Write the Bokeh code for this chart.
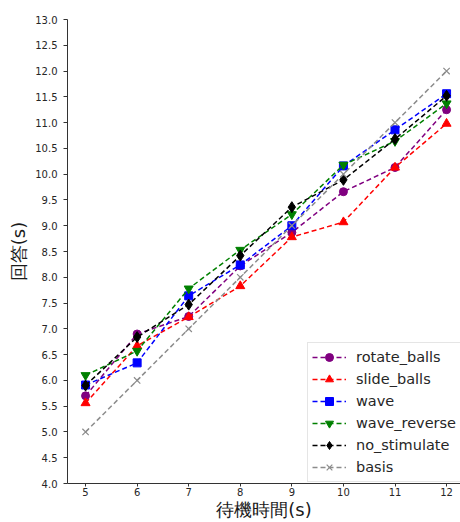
from bokeh.plotting import figure
from bokeh.models import Range1d, FixedTicker, NumeralTickFormatter, Legend, LegendItem
from bokeh.embed import file_html
from bokeh.resources import INLINE

x = [5, 6, 7, 8, 9, 10, 11, 12]
rotate_balls = [5.70, 6.90, 7.24, 8.22, 8.87, 9.66, 10.13, 11.25]
slide_balls = [5.56, 6.67, 7.23, 7.83, 8.78, 9.07, 10.13, 10.98]
wave = [5.91, 6.34, 7.64, 8.24, 9.00, 10.16, 10.86, 11.56]
wave_reverse = [6.10, 6.57, 7.78, 8.53, 9.22, 10.18, 10.64, 11.37]
no_stimulate = [5.90, 6.84, 7.47, 8.42, 9.36, 9.89, 10.68, 11.52]
basis = [5, 6, 7, 8, 9, 10, 11, 12]

x_ticks = [5, 6, 7, 8, 9, 10, 11, 12]
y_ticks = [4.0, 4.5, 5.0, 5.5, 6.0, 6.5, 7.0, 7.5, 8.0, 8.5, 9.0, 9.5, 10.0,
           10.5, 11.0, 11.5, 12.0, 12.5, 13.0]

series = [
    ("rotate_balls", rotate_balls, "#800080", "circle", 8),
    ("slide_balls", slide_balls, "#ff0000", "triangle", 9),
    ("wave", wave, "#0000ff", "square", 8),
    ("wave_reverse", wave_reverse, "#008000", "inverted_triangle", 9),
    ("no_stimulate", no_stimulate, "#000000", "diamond", 11),
    ("basis", basis, "#8c8c8c", "x", 9),
]

p = figure(width=460, height=522, output_backend="svg", toolbar_location=None,
           x_range=Range1d(4.65, 12.27), y_range=Range1d(4.0, 13.0),
           min_border_left=67, min_border_top=19, min_border_right=0,
           min_border_bottom=37)
p.outline_line_color = None
p.grid.visible = False
p.background_fill_color = "white"

for ax in (p.xaxis[0], p.yaxis[0]):
    ax.axis_line_color = "#333333"
    ax.axis_line_width = 1
    ax.major_tick_line_color = "#333333"
    ax.major_tick_out = 4
    ax.major_tick_in = 0
    ax.minor_tick_line_color = None
    ax.major_label_text_font = "DejaVu Sans"
    ax.major_label_text_font_size = "10px"
    ax.major_label_text_color = "#262626"
    ax.axis_label_text_font = "DejaVu Sans"
    ax.axis_label_text_font_size = "18px"
    ax.axis_label_text_font_style = "normal"
    ax.axis_label_text_color = "#1a1a1a"

p.xaxis.ticker = FixedTicker(ticks=x_ticks)
p.yaxis.ticker = FixedTicker(ticks=y_ticks)
p.yaxis.formatter = NumeralTickFormatter(format="0.0")
p.xaxis.axis_label = "待機時間(s)"
p.yaxis.axis_label = "回答(s)"
p.xaxis.major_tick_out = 3
p.xaxis.major_label_standoff = 1
p.xaxis.axis_label_standoff = 0
p.yaxis.major_label_standoff = 6
p.yaxis.axis_label_standoff = 3

items = []
for name, ys, color, marker, size in series:
    ln = p.line(x, ys, line_color=color, line_width=1.5, line_dash="5 3")
    if marker == "x":
        sc = p.scatter(x, ys, marker=marker, size=size, line_color=color,
                       line_width=1.2)
    else:
        sc = p.scatter(x, ys, marker=marker, size=size, fill_color=color,
                       line_color=color)
    items.append(LegendItem(label=name, renderers=[ln, sc]))

legend = Legend(items=items, location=(240, 1), orientation="vertical",
                label_text_font="DejaVu Sans", label_text_font_size="14.5px",
                label_text_color="#262626",
                glyph_width=34, glyph_height=20, label_height=20,
                label_standoff=10, spacing=2, padding=4, margin=0,
                border_line_color="#cccccc", border_line_width=1,
                background_fill_color="white", background_fill_alpha=0.8)
p.add_layout(legend, "center")

open("out.html", "w").write(file_html(p, INLINE))
